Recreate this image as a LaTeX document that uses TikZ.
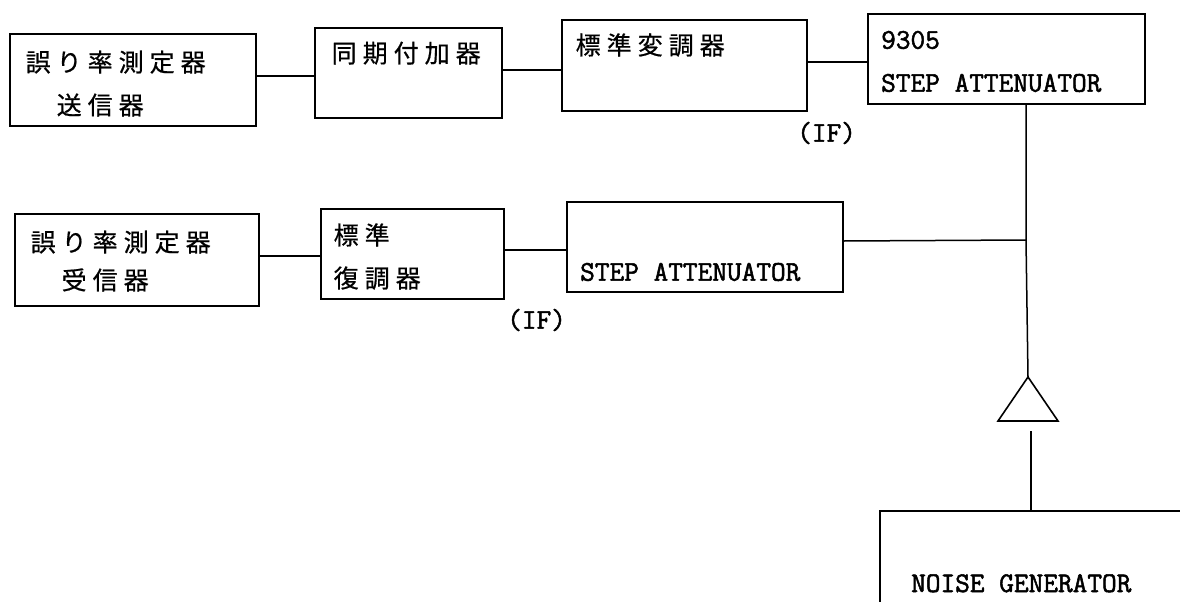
\documentclass[tikz,border=0pt]{standalone}
\usepackage{fontspec}
\newfontfamily\cjk[LetterSpace=24,FakeBold=0.6]{Noto Sans CJK JP}
\newfontfamily\monof[FakeBold=1.8]{Latin Modern Mono}
\begin{document}
\begin{tikzpicture}[x=1pt,y=-1pt,
  box/.style={draw=black,line width=1.7pt,rectangle,inner sep=0pt},
  wire/.style={draw=black,line width=1.5pt},
  jtext/.style={anchor=base west,inner sep=0pt,font=\cjk\fontsize{25}{30}\selectfont,text=black},
  mtext/.style={anchor=base west,inner sep=0pt,font=\monof\fontsize{28.5}{30}\selectfont,text=black}]
\useasboundingbox (0,0) rectangle (1180,602);
\clip (0,0) rectangle (1180,602);
% boxes
\node[box,minimum width=246pt,minimum height=92pt] (b1) at (133,80) {};
\node[box,minimum width=187pt,minimum height=90pt] (b2) at (408.5,73) {};
\node[box,minimum width=245pt,minimum height=91pt] (b3) at (684.5,65.5) {};
\node[box,minimum width=277pt,minimum height=90pt] (b4) at (1006.5,59) {};
\node[box,minimum width=244pt,minimum height=92pt] (b5) at (137,260) {};
\node[box,minimum width=183pt,minimum height=90pt] (b6) at (412.5,254) {};
\node[box,minimum width=276pt,minimum height=90pt] (b7) at (705,247) {};
\node[box,minimum width=340pt,minimum height=130pt] (ng) at (1050,576) {};
% texts
\node[jtext] (t1a) at (25.5,71.5) {誤り率測定器};
\node[jtext] (t1b) at (56.5,114.5) {送信器};
\node[jtext] (t2) at (331.5,62.5) {同期付加器};
\node[jtext] (t3) at (575.5,54.5) {標準変調器};
\node[mtext] (t4a) at (881,48.7) {9305};
\node[mtext] (t4b) at (881,91.7) {STEP ATTENUATOR};
\node[jtext] (t5a) at (30.5,251.5) {誤り率測定器};
\node[jtext] (t5b) at (61.5,289.5) {受信器};
\node[jtext] (t6a) at (333.5,244.5) {標準};
\node[jtext] (t6b) at (333.5,287.5) {復調器};
\node[mtext] (t7) at (580,280.7) {STEP ATTENUATOR};
\node[mtext] (if1) at (797,141.7) {(IF)};
\node[mtext] (if2) at (507,328.7) {(IF)};
\node[mtext] (tng) at (911,592) {NOISE GENERATOR};
% junction and amplifier
\coordinate (j) at (1026,240);
\coordinate (tri) at (1028,377);
\coordinate (trib) at (1031,431);
% connectors
\draw[wire] (b1.east |- 0,76) -- (b2.west |- 0,76);
\draw[wire] (b2.east |- 0,70) -- (b3.west |- 0,70);
\draw[wire] (b3.east |- 0,62) -- (b4.west |- 0,62);
\draw[wire] (b5.east |- 0,256) -- (b6.west |- 0,256);
\draw[wire] (b6.east |- 0,250) -- (b7.west |- 0,250);
\draw[wire] (b7.east |- 0,241) -- (j);
\draw[wire] (b4.south -| j) -- (j) -- (tri);
\draw[line width=1.6pt,line join=miter] (tri) -- (998,421) -- (1058,421) -- cycle;
\draw[wire] (trib) -- (ng.north -| trib);
\end{tikzpicture}
\end{document}
